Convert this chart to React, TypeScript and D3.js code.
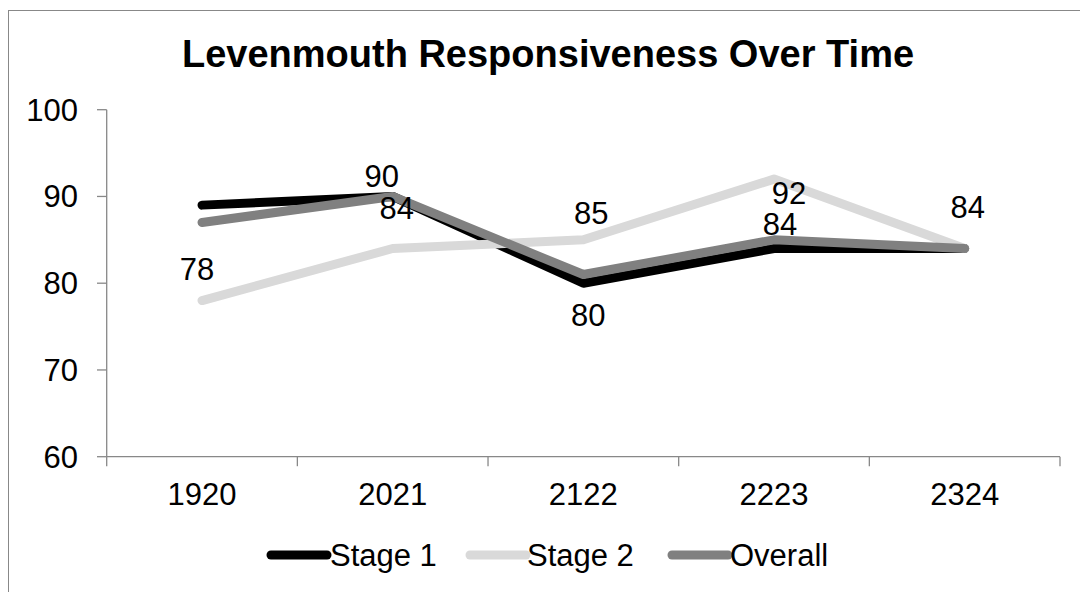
import React from "react";
import * as d3 from "d3";

const categories = ["1920", "2021", "2122", "2223", "2324"];
const stage1 = [89, 90, 80, 84, 84];
const stage2 = [78, 84, 85, 92, 84];
const overall = [87, 90, 81, 85, 84];
const yTicks = [60, 70, 80, 90, 100];
const seriesNames = ["Stage 1", "Stage 2", "Overall"];
const title = "Levenmouth Responsiveness Over Time";

// which values are labelled (series index, category index)
const labelRefs: [number, number][] = [
  [1, 0],
  [0, 1],
  [1, 1],
  [1, 2],
  [0, 2],
  [1, 3],
  [0, 3],
  [1, 4],
];
// label offsets in px relative to point
const labelOffsets: [number, number][] = [
  [-5, -31],
  [-11, -20],
  [4, -40],
  [8, -27],
  [5, 32],
  [15, 14],
  [6, -24],
  [3, -41],
];

const W = 1080;
const H = 592;
const FONT = "Arial, 'Liberation Sans', sans-serif";
const FS = 31;

export default function App() {
  const x = d3.scaleBand().domain(categories).range([106.7, 1060]);
  const y = d3.scaleLinear().domain([60, 100]).range([456.7, 109.7]);
  const cx = (c: string) => (x(c) as number) + x.bandwidth() / 2;
  const allSeries = [stage1, stage2, overall];
  const colors = ["#000000", "#d9d9d9", "#808080"];
  const line = d3
    .line<number>()
    .x((_, i) => cx(categories[i]))
    .y((d) => y(d));

  const axisColor = "#888888";
  const bandEdges = categories.map((c) => x(c) as number).concat([1060]);

  const legendItems = [
    { lx1: 271, lx2: 327, tx: 330 },
    { lx1: 470, lx2: 526, tx: 527 },
    { lx1: 672, lx2: 728, tx: 730 },
  ];

  return (
    <svg
      width={W}
      height={H}
      style={{ position: "absolute", left: 0, top: 0, background: "#fff" }}
      fontFamily={FONT}
    >
      <rect x={0} y={0} width={W} height={H} fill="#fff" />
      <rect x={8.5} y={10.5} width={1100} height={620} fill="none" stroke={axisColor} strokeWidth={1} />
      <text x={548} y={67} textAnchor="middle" fontSize={38} fontWeight="bold" fill="#000">
        {title}
      </text>
      {/* y axis */}
      <line x1={106.7} x2={106.7} y1={y(100)} y2={y(60)} stroke={axisColor} strokeWidth={1.3} />
      {yTicks.map((t) => (
        <g key={t}>
          <line x1={97} x2={106.7} y1={y(t)} y2={y(t)} stroke={axisColor} strokeWidth={1.3} />
          <text x={78} y={y(t)} dy="0.35em" textAnchor="end" fontSize={FS} fill="#000">
            {t}
          </text>
        </g>
      ))}
      {/* x axis */}
      <line x1={106.7} x2={1060} y1={y(60)} y2={y(60)} stroke={axisColor} strokeWidth={1.3} />
      {bandEdges.map((e, i) => (
        <line key={i} x1={e} x2={e} y1={y(60)} y2={y(60) + 9.5} stroke={axisColor} strokeWidth={1.3} />
      ))}
      {categories.map((c) => (
        <text key={c} x={cx(c)} y={505} textAnchor="middle" fontSize={FS} fill="#000">
          {c}
        </text>
      ))}
      {/* lines */}
      {allSeries.map((s, i) => (
        <path
          key={i}
          d={line(s) as string}
          fill="none"
          stroke={colors[i]}
          strokeWidth={9}
          strokeLinejoin="round"
          strokeLinecap="round"
        />
      ))}
      {/* data labels */}
      {labelRefs.map(([si, ci], k) => (
        <text
          key={k}
          x={cx(categories[ci]) + labelOffsets[k][0]}
          y={y(allSeries[si][ci]) + labelOffsets[k][1]}
          dy="0.35em"
          textAnchor="middle"
          fontSize={FS}
          fill="#000"
        >
          {allSeries[si][ci]}
        </text>
      ))}
      {/* legend */}
      {seriesNames.map((n, i) => (
        <g key={n}>
          <line
            x1={legendItems[i].lx1}
            x2={legendItems[i].lx2}
            y1={555}
            y2={555}
            stroke={colors[i]}
            strokeWidth={9}
            strokeLinecap="round"
          />
          <text x={legendItems[i].tx} y={555} dy="0.35em" fontSize={FS} fill="#000">
            {n}
          </text>
        </g>
      ))}
    </svg>
  );
}
